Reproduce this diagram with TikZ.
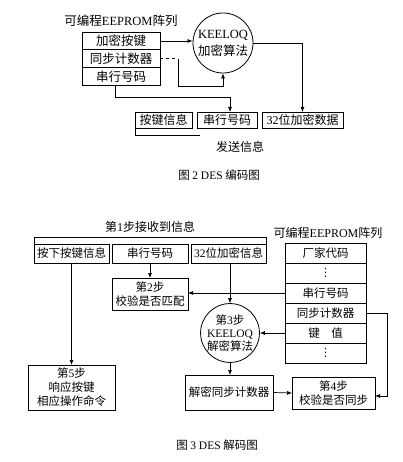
\documentclass[tikz,border=0pt]{standalone}
\usepackage{fontspec}
\setmainfont{Noto Sans CJK SC}
\newfontfamily\latf{Liberation Serif}
\newfontfamily\symf{DejaVu Sans}
\usepackage{tikz}
\usetikzlibrary{arrows.meta, positioning}

\begin{document}
\begin{tikzpicture}[
    x=1pt, y=-1pt,
    box/.style={draw, line width=0.8pt, inner sep=1pt, outer sep=0pt, align=center,
                font=\fontsize{11.5}{14}\selectfont},
    tcell/.style={box, minimum width=78pt, minimum height=17.7pt, font=\fontsize{12.5}{14}\selectfont},
    cell/.style={box, minimum width=81pt, minimum height=20pt},
    algo/.style={draw, circle, line width=0.8pt, inner sep=0pt, align=center},
    arr/.style={-{Latex[length=5pt, width=4pt]}, line width=0.7pt},
    lbl/.style={font=\fontsize{12}{14}\selectfont}
]
    \path[fill=white] (0,0) rectangle (402,462);
    \useasboundingbox (0,0) rectangle (402,462);

    % --- encoder (Fig. 2) ---
    \node[lbl, font=\fontsize{12.5}{14}\selectfont] (ttl1) at (121,21) {可编程{\latf EEPROM}阵列};
    \node[tcell] (k1) at (121,41) {加密按键};
    \node[tcell, below=0pt of k1] (k2) {同步计数器};
    \node[tcell, below=0pt of k2] (k3) {串行号码};
    \node[algo, minimum size=60pt, font=\fontsize{12.5}{17}\selectfont] (enc) at (223,43)
        {{\latf KEELOQ}\\加密算法};

    \node[box, minimum width=57pt, minimum height=16pt, font=\fontsize{12}{14}\selectfont] (s1) at (163.5,120) {按键信息};
    \node[box, minimum width=60pt, minimum height=16pt, font=\fontsize{12}{14}\selectfont, right=5pt of s1] (s2) {串行号码};
    \node[box, minimum width=81pt, minimum height=16pt, font=\fontsize{12}{14}\selectfont, right=5pt of s2] (s3) {{\latf 32}位加密数据};
    \node[lbl] (send) at (240,147) {发送信息};

    \draw[arr] (k1.east) -- (k1.east -| enc.west);
    \draw[dashed, line width=0.7pt] (k2.east) -- ++(18,0) coordinate (c1);
    \draw[arr] (c1) -- ++(0,28) -| (enc.south);
    \draw[arr] ([xshift=-6pt]k3.south) -- ++(0,12) -| ([xshift=3pt]s2.north);
    \draw[arr] (enc.east) -| (s3.north);
    \draw[line width=0.7pt] (s1.south west) -- ++(0,7) -- ++(65,0);

    \node[lbl, font=\fontsize{11.5}{14}\selectfont] (cap1) at (219,175) {图 {\latf 2 DES} 编码图};

    % --- decoder (Fig. 3) ---
    \node[lbl] (ttl2) at (150,227) {第{\latf 1}步接收到信息};
    \node[box, minimum width=75pt, minimum height=19pt] (r1) at (71.5,253.5) {按下按键信息};
    \node[box, minimum width=76pt, minimum height=19pt, right=3pt of r1] (r2) {串行号码};
    \node[box, minimum width=75pt, minimum height=19pt, right=3pt of r2] (r3) {{\latf 32}位加密信息};
    \draw[line width=0.7pt] (r1.north west) -- ++(0,-7) -| (r3.north east);

    \node[box, minimum width=76pt, minimum height=32pt] (st2) at (150,294) {第{\latf 2}步\\校验是否匹配};
    \node[algo, minimum size=58pt, font=\fontsize{11.5}{13}\selectfont] (st3) at (230,333)
        {第{\latf 3}步\\{\latf KEELOQ}\\解密算法};

    \node[lbl] (ttl3) at (328,233) {可编程{\latf EEPROM}阵列};
    \node[cell] (e1) at (325.5,253) {厂家代码};
    \node[cell, below=0pt of e1] (e2) {{\symf ⋮}};
    \node[cell, below=0pt of e2] (e3) {串行号码};
    \node[cell, below=0pt of e3] (e4) {同步计数器};
    \node[cell, below=0pt of e4] (e5) {键\quad 值};
    \node[cell, below=0pt of e5] (e6) {{\symf ⋮}};

    \node[box, minimum width=87pt, minimum height=45pt] (st5) at (71.5,387.5) {第{\latf 5}步\\响应按键\\相应操作命令};
    \node[box, minimum width=88pt, minimum height=35pt] (dec) at (229,392.5) {解密同步计数器};
    \node[box, minimum width=83pt, minimum height=32pt] (st4) at (333.5,393) {第{\latf 4}步\\校验是否同步};

    \draw[arr] (r1.south) -- (st5.north);
    \draw[arr] (r2.south) -- (st2.north);
    \draw[arr] (e3.west) -- (e3.west -| st2.east);
    \draw[arr] (st3.north |- r3.south) -- (st3.north);
    \draw[arr] (e5.west) -- (st3.east);
    \draw[arr] (st3.south) -- (st3.south |- dec.north);
    \draw[arr] (dec.east) -- (st4.west);
    \draw[arr] (e4.east) -- ++(21,0) |- ([yshift=-3pt]st4.east);

    \node[lbl, font=\fontsize{11.5}{14}\selectfont] (cap2) at (217,445) {图 {\latf 3 DES} 解码图};
\end{tikzpicture}
\end{document}
